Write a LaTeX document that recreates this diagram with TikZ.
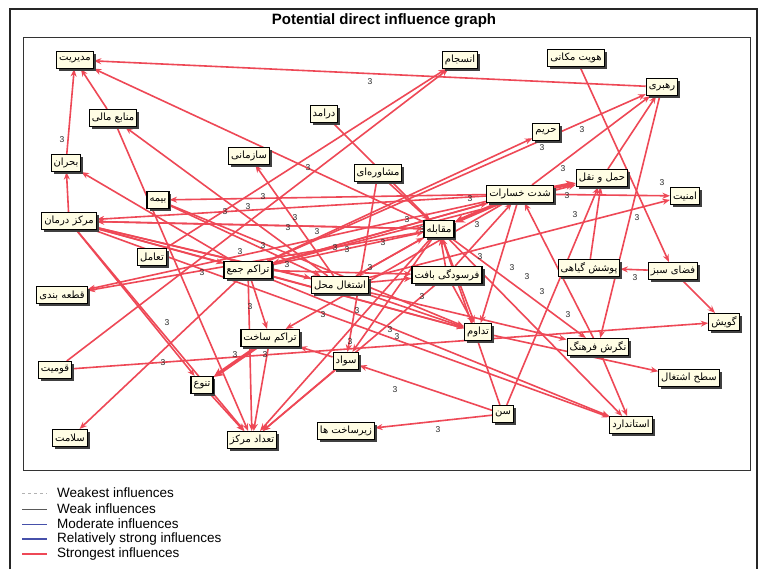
\documentclass[tikz,border=0pt]{standalone}
\usepackage{fontspec}
\setmainfont{Liberation Sans}
\newfontfamily\arabicfont[Script=Arabic]{DejaVu Sans}
\TeXXeTstate=1
\usetikzlibrary{arrows.meta,shadows}
\pgfdeclarelayer{back}
\pgfdeclarelayer{bg}
\pgfsetlayers{back,bg,main}
\newcommand{\fa}[1]{{\arabicfont\beginR #1\endR}}
\definecolor{edgered}{RGB}{238,72,86}
\definecolor{nodefill}{RGB}{255,253,228}
\definecolor{modblue}{RGB}{70,80,170}
\begin{document}
\begin{tikzpicture}[x=1pt,y=-1pt,
  nd/.style={draw=black, line width=1.1pt, fill=nodefill, inner xsep=2.5pt, inner ysep=1.5pt, minimum height=17pt,
    font=\arabicfont\fontsize{10}{11}\selectfont,
    drop shadow={shadow xshift=2.5pt, shadow yshift=-2.5pt, fill=black!75, opacity=1}},
  ed/.style={draw=edgered, line width=1.6pt, -{Stealth[length=7.5pt,width=6pt]}},
  edth/.style={ed, line width=3.5pt, -{Stealth[length=10pt,width=9pt]}},
  lbl/.style={font=\fontsize{8.5}{9}\selectfont, text=black!85, inner sep=0pt},
  leg/.style={font=\fontsize{13.5}{14}\selectfont, anchor=west, inner sep=0pt}]
\useasboundingbox (0,0) rectangle (763,571);
\begin{pgfonlayer}{back}
\fill[white] (0,0) rectangle (763,571);
\end{pgfonlayer}
% frames
\draw[black!85, line width=1.2pt] (10,569) -- (10,9) -- (757,9) -- (757,569);
\draw[black!80, line width=0.8pt] (23,37) rectangle (750,470);
\node[font=\bfseries\fontsize{15}{17}\selectfont, inner sep=0pt] (title) at (384,21) {Potential direct influence graph};
% nodes
\node[nd] (mod) at (75,60) {\fa{مدیریت}};
\node[nd] (ens) at (460,60) {\fa{انسجام}};
\node[nd] (hov) at (576,58) {\fa{هویت مکانی}};
\node[nd] (rah) at (662,87) {\fa{رهبری}};
\node[nd] (man) at (113,118) {\fa{منابع مالی}};
\node[nd] (dar) at (324,114) {\fa{درامد}};
\node[nd] (har) at (546,132) {\fa{حریم}};
\node[nd] (saz) at (249,156) {\fa{سازمانی}};
\node[nd] (boh) at (66,163) {\fa{بحران}};
\node[nd] (mos) at (378,173) {\fa{مشاوره‌ای}};
\node[nd] (ham) at (602,178) {\fa{حمل و نقل}};
\node[nd] (sho) at (520,194) {\fa{شدت خسارات}};
\node[nd] (bim) at (158,200) {\fa{بیمه}};
\node[nd] (amn) at (685,196) {\fa{امنیت}};
\node[nd] (mdr) at (69,221) {\fa{مرکز درمان}};
\node[nd] (mog) at (439,229) {\fa{مقابله}};
\node[nd] (taa) at (152,257) {\fa{تعامل}};
\node[nd] (tjm) at (248,270) {\fa{تراکم جمع}};
\node[nd] (pos) at (589,268) {\fa{پوشش گیاهی}};
\node[nd] (fza) at (673,271) {\fa{فضای سبز}};
\node[nd] (fars) at (447,275) {\fa{فرسودگی بافت}};
\node[nd] (esh) at (340,285) {\fa{اشتغال محل}};
\node[nd] (qat) at (62,295) {\fa{قطعه بندی}};
\node[nd] (gov) at (724,322) {\fa{گویش}};
\node[nd] (tad) at (478,332) {\fa{تداوم}};
\node[nd] (tsk) at (270,338) {\fa{تراکم ساخت}};
\node[nd] (neg) at (598,347) {\fa{نگرش فرهنگ}};
\node[nd] (qom) at (55,370) {\fa{قومیت}};
\node[nd] (sav) at (346,361) {\fa{سواد}};
\node[nd] (sat) at (689,378) {\fa{سطح اشتغال}};
\node[nd] (tan) at (202,385) {\fa{تنوع}};
\node[nd] (sen) at (503,414) {\fa{سن}};
\node[nd] (sta) at (631,425) {\fa{استاندارد}};
\node[nd] (zir) at (346,431) {\fa{زیرساخت ها}};
\node[nd] (sal) at (70,438) {\fa{سلامت}};
\node[nd] (tmk) at (252,440) {\fa{تعداد مرکز}};
% edges
\begin{pgfonlayer}{bg}
\foreach \a/\b in {rah/mod, boh/mod, man/mod, mog/mod,
  qom/ens, taa/ens, hov/fza, fza/gov, fza/pos,
  sho/rah, tjm/rah, ham/rah, rah/neg, tjm/har,
  sen/ham, pos/ham, sho/amn, esh/amn,
  sho/mdr, mog/mdr, sho/bim, esh/man, man/tmk,
  tjm/boh, mdr/boh, mdr/tan, mdr/tmk, mdr/tjm, mdr/esh, mdr/tad, mdr/neg, mdr/sta,
  mog/qat, sho/qat, dar/mog, mos/sav, mos/mog, esh/saz, qom/gov,
  tsk/tmk, tjm/tmk, tjm/tsk, tan/tmk, sav/tmk, mog/tmk, fars/tmk,
  sav/tsk, sen/sav, sen/zir, tjm/sta, mog/sta, neg/sta, tad/sat,
  mog/neg, neg/sho, tjm/sal,
  mog/tad, sho/tad, fars/tad, tjm/tad, esh/tad,
  tjm/mog, esh/mog, tjm/sho, fars/mog, fars/sho, tjm/fars, esh/fars, bim/esh, tjm/ham,
  sho/tsk, mog/esh, sho/tjm, mdr/mog, mog/sav, sen/mog, bim/tad}
  \draw[ed] (\a) -- (\b);
\foreach \a/\b in {sho/ham, sho/mog, tsk/tan}
  \draw[edth] (\a) -- (\b);
\end{pgfonlayer}
% labels
\foreach \x/\y [count=\i] in {62/140, 370/82, 582/130, 542/148, 563/169, 567/196, 662/183, 575/215,
  637/218, 635/278, 512/268, 527/277, 542/292, 568/315, 308/168, 263/197, 295/218, 288/228,
  317/232, 407/220, 422/230, 470/199, 477/225, 335/248, 347/250, 383/243, 263/246, 287/265,
  370/268, 480/257, 422/297, 357/311, 323/315, 248/207, 225/212, 240/252, 202/273, 250/307,
  167/323, 235/355, 265/355, 163/363, 390/330, 397/337, 350/342, 395/390, 438/430}
  \node[lbl] (t\i) at (\x,\y) {3};
% legend
\coordinate (la1) at (22,493); \coordinate (lb1) at (47,493);
\coordinate (la2) at (22,509); \coordinate (lb2) at (47,509);
\coordinate (la3) at (22,524); \coordinate (lb3) at (47,524);
\coordinate (la4) at (22,539); \coordinate (lb4) at (47,539);
\coordinate (la5) at (22,554); \coordinate (lb5) at (47,554);
\draw[black!30, dashed, line width=0.6pt] (la1) -- (lb1);
\draw[black!65, line width=0.8pt] (la2) -- (lb2);
\draw[modblue, line width=0.8pt] (la3) -- (lb3);
\draw[modblue, line width=2pt] (la4) -- (lb4);
\draw[edgered, line width=2.2pt] (la5) -- (lb5);
\node[leg] (g1) at (57,493) {Weakest influences};
\node[leg] (g2) at (57,509) {Weak influences};
\node[leg] (g3) at (57,524) {Moderate influences};
\node[leg] (g4) at (57,539) {Relatively strong influences};
\node[leg] (g5) at (57,554) {Strongest influences};
\end{tikzpicture}
\end{document}
